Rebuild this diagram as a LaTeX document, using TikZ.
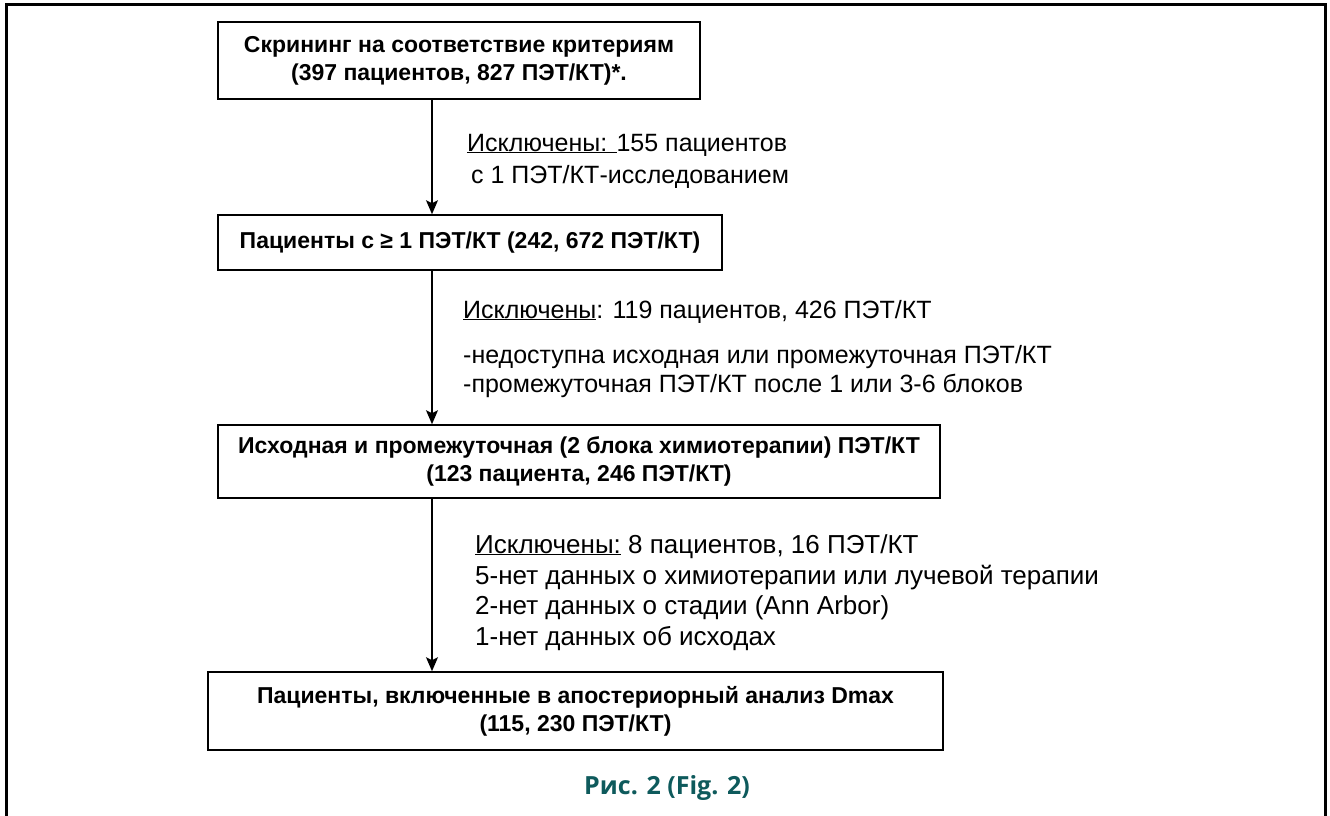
\documentclass[tikz,border=0pt]{standalone}
\usepackage{fontspec}
\setmainfont{Liberation Sans}
\newfontfamily\capfont{Open Sans}
\usetikzlibrary{arrows.meta}
\definecolor{capteal}{RGB}{14,90,92}
\tikzset{
  x=1pt, y=-1pt,
  boxnode/.style={draw, line width=1.6pt, align=center, inner sep=0pt,
    font=\bfseries\fontsize{23}{28}\selectfont},
  lbl/.style={anchor=base west, inner sep=0pt, font=\fontsize{25}{29}\selectfont},
  lblb/.style={lbl, font=\fontsize{26}{30}\selectfont},
  flow/.style={line width=1.3pt, -{Stealth[length=14pt,width=12pt,inset=3pt]}},
}
\begin{document}
\begin{tikzpicture}
\useasboundingbox (0,0) rectangle (1330,816);
\fill[white] (0,0) rectangle (1330,816);
% outer frame (bottom side open)
\draw[line width=3pt] (6,830) -- (6,5) -- (1325,5) -- (1325,830);

\node[boxnode, minimum width=482pt, minimum height=77pt] (b1) at (459,60.5)
  {Скрининг на соответствие критериям\\(397 пациентов, 827 ПЭТ/КТ)*.};
\node[boxnode, minimum width=504pt, minimum height=55pt] (b2) at (470,242.5)
  {Пациенты с ≥ 1 ПЭТ/КТ (242, 672 ПЭТ/КТ)};
\node[boxnode, minimum width=722pt, minimum height=73pt] (b3) at (579,461.5)
  {Исходная и промежуточная (2 блока химиотерапии) ПЭТ/КТ\\(123 пациента, 246 ПЭТ/КТ)};
\node[boxnode, minimum width=735pt, minimum height=78pt] (b4) at (575.5,711)
  {Пациенты, включенные в апостериорный анализ Dmax\\(115, 230 ПЭТ/КТ)};

\coordinate (ax) at (432,0);
\draw[flow] (b1.south -| ax) -- (b2.north -| ax);
\draw[flow] (b2.south -| ax) -- (b3.north -| ax);
\draw[flow] (b3.south -| ax) -- (b4.north -| ax);

\node[lbl] (l1a) at (467,151) {\underline{Исключены: }155 пациентов};
\node[lbl] (l1b) at (471,183) {с 1 ПЭТ/КТ-исследованием};

\node[lbl] (l2a) at (463,318) {\underline{Исключены}: 119 пациентов, 426 ПЭТ/КТ};
\node[lbl] (l2b) at (463,363) {-недоступна исходная или промежуточная ПЭТ/КТ};
\node[lbl] (l2c) at (463,392) {-промежуточная ПЭТ/КТ после 1 или 3-6 блоков};

\node[lblb] (l3a) at (475,553) {\underline{Исключены:} 8 пациентов, 16 ПЭТ/КТ};
\node[lblb] (l3b) at (475,584) {5-нет данных о химиотерапии или лучевой терапии};
\node[lblb] (l3c) at (475,614) {2-нет данных о стадии (Ann Arbor)};
\node[lblb] (l3d) at (475,645) {1-нет данных об исходах};

\node[font=\capfont\bfseries\fontsize{25}{29}\selectfont, text=capteal, inner sep=0pt] (cap) at (667,788) {Рис. 2 (Fig. 2)};
\end{tikzpicture}
\end{document}
